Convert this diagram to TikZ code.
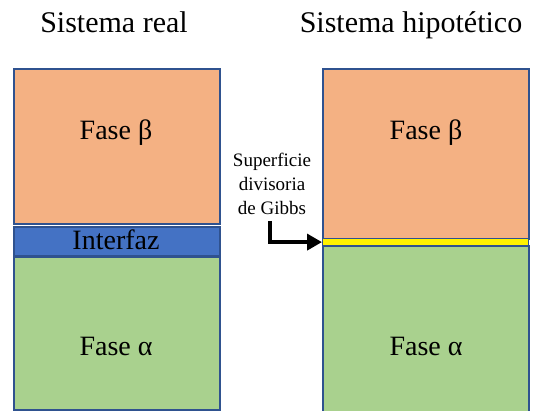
\documentclass[tikz,border=0pt]{standalone}
\usepackage{fontspec}
\setmainfont{Liberation Serif}
\usetikzlibrary{arrows.meta}
\definecolor{fbeta}{HTML}{F4B183}
\definecolor{falpha}{HTML}{A9D18E}
\definecolor{finter}{HTML}{4472C4}
\definecolor{edge}{HTML}{2F528F}
\begin{document}
\begin{tikzpicture}[x=1pt,y=-1pt,
  phase/.style={draw=edge, line width=2pt, minimum width=206pt, inner sep=0pt, anchor=north west},
  title/.style={font=\fontsize{30}{34}\selectfont, anchor=base},
  label/.style={font=\fontsize{28}{32}\selectfont, anchor=base},
  note/.style={font=\fontsize{19}{24}\selectfont, align=center}]
\useasboundingbox (0,0) rectangle (534,411);
% column titles
\node[title] (t1) at (114,33) {Sistema real};
\node[title] (t2) at (411,33) {Sistema hipotético};
% real system: two phases separated by a thick interface
\node[phase, fill=fbeta, minimum height=155pt] (b1) at (13,68) {};
\node[phase, fill=finter, minimum height=29pt] (i1) at (13,226) {};
\node[phase, fill=falpha, minimum height=153pt] (a1) at (13,256) {};
\node[label] (lb1) at (116,140) {Fase β};
\node[label] (li1) at (116,249) {Interfaz};
\node[label] (la1) at (116,355) {Fase α};
% hypothetical system: zero-thickness Gibbs dividing surface
\node[phase, fill=fbeta, minimum height=170pt] (b2) at (322,68) {};
\node[phase, fill=falpha, minimum height=170pt] (a2) at (322,245) {};
\node[phase, fill=yellow, minimum height=7pt, line width=1.2pt] (g2) at (322,238) {};
\node[label] (lb2) at (426,140) {Fase β};
\node[label] (la2) at (426,355) {Fase α};
% annotation
\node[note] (n) at (272,184) {Superficie\\divisoria\\de Gibbs};
\coordinate (s) at (270,221);
\draw[line width=3.8pt, -{Triangle[length=15pt,width=16pt]}] (s) |- (g2.west);
\end{tikzpicture}
\end{document}
